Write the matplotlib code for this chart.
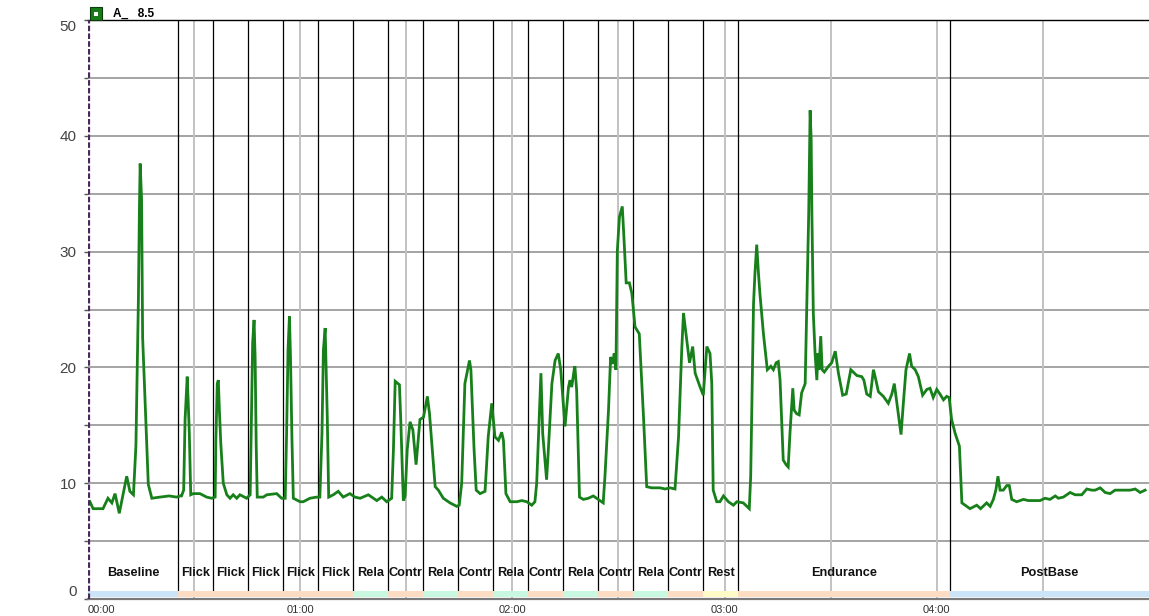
import matplotlib
matplotlib.use("Agg")
import matplotlib.pyplot as plt
from matplotlib.patches import Rectangle

plt.rcParams['font.family'] = ['Liberation Sans', 'DejaVu Sans']

# signal, seconds / value
t = [0.6, 1.5, 4.3, 5.7, 6.8, 7.7, 8.9, 11.0, 11.9, 12.9, 13.6, 14.3, 14.6, 14.8, 15.2,
     15.5, 16.7, 17.1, 18.1, 20.4, 23.0, 25.1, 26.1,
     26.5, 27.1, 27.5, 27.8, 28.1, 28.4, 28.7, 29.1, 29.8, 31.7, 33.6, 35.0,
     36.0, 36.2, 36.6, 36.9, 37.2, 37.6, 38.3, 39.3, 40.2, 41.1, 42.1, 43.0, 44.9,
     45.9, 46.2, 46.6, 47.0, 47.3, 47.6, 47.9, 49.6, 50.6, 53.4, 54.8,
     55.8, 56.2, 56.6, 57.0, 57.3, 57.7, 58.1, 60.0, 60.9, 62.8, 64.7,
     65.6, 66.2, 66.6, 67.1, 67.3, 67.7, 68.1, 69.4, 70.8, 72.2, 74.1, 75.5, 77.0,
     79.3, 81.7, 83.1, 84.5,
     85.9, 86.4, 86.9, 88.1, 88.5, 89.2, 89.7, 90.3, 91.1, 91.9, 92.8, 93.9, 94.9,
     96.0, 96.6, 98.2, 99.1, 100.5, 102.4, 104.3, 105.0,
     105.7, 106.6, 107.9, 108.3, 109.2, 109.8, 110.9, 112.3, 113.2, 114.2, 115.1,
     116.1, 117.0, 117.5, 118.2, 119.4, 121.3, 122.7, 124.1, 125.5, 126.4,
     126.9, 127.7, 128.1, 128.6, 129.7, 130.2, 131.2, 132.1, 133.0, 133.7, 134.9,
     135.9, 136.3, 136.8, 137.5, 137.7, 138.2, 139.0, 140.1, 141.5, 142.9, 144.3, 145.7,
     146.2, 147.2, 147.8, 148.4, 148.8, 149.3, 149.7, 150.3, 151.1, 151.6, 152.2,
     153.1, 153.8, 154.7, 155.9, 157.1, 158.0, 159.4, 161.8, 163.2, 164.6, 166.0,
     167.0, 167.9, 168.4, 169.3, 170.1, 171.0, 171.7, 173.1, 174.0, 175.0, 175.9,
     176.4, 176.8, 177.8, 178.7, 179.7, 181.1, 182.5, 183.5, 185.3, 187.0,
     187.4, 187.7, 188.0, 188.2, 188.6, 189.1, 189.6, 190.0, 191.0, 192.1, 193.1,
     193.8, 194.6, 195.2, 195.7, 196.6, 197.4, 198.0, 198.5, 199.3, 199.7, 200.4,
     201.1, 201.8, 202.8, 203.4, 203.8, 204.2, 204.5, 204.7, 205.1, 205.6, 206.1,
     206.4, 206.7, 207.2, 207.6, 208.2, 209.4, 210.3, 211.3, 212.2, 213.4, 214.4,
     215.7, 217.4, 218.8, 219.4, 220.2, 221.2, 222.1, 222.8, 223.5, 224.9, 226.3,
     227.3, 228.0, 228.7, 229.3, 229.9, 230.6, 231.3, 232.3, 232.9, 233.9, 234.8,
     236.0, 237.2, 238.1, 239.0, 240.0, 240.9, 241.9, 242.8, 243.5, 244.2, 245.2,
     246.4, 247.1, 248.5, 249.4, 251.3, 252.4, 254.1, 255.1, 256.0, 256.7, 257.3,
     257.9, 258.8, 259.8, 260.5, 261.2, 262.6, 264.5, 265.9, 267.3, 269.2, 270.6,
     272.0, 273.5, 274.4, 275.8, 277.7, 279.1, 281.0, 282.4, 283.8, 284.8, 286.2,
     287.6, 289.0, 290.4, 292.3, 294.7, 296.1, 297.5, 298.9]
v = [8.4, 7.8, 7.8, 8.7, 8.3, 9.1, 7.4, 10.6, 9.3, 9.0, 13.2, 25.8, 33.9, 37.6, 34.5,
     22.6, 12.9, 9.9, 8.7, 8.8, 8.9, 8.8, 8.9,
     8.9, 9.4, 15.5, 17.3, 19.2, 16.9, 14.3, 9.0, 9.1, 9.1, 8.8, 8.7,
     8.8, 13.7, 18.6, 18.9, 16.3, 13.4, 10.0, 9.0, 8.7, 9.0, 8.7, 9.0, 8.7,
     9.0, 14.6, 22.1, 24.1, 20.9, 13.4, 8.8, 8.8, 9.0, 9.1, 8.7,
     8.7, 14.3, 21.5, 24.4, 20.9, 14.0, 8.7, 8.4, 8.4, 8.7, 8.8,
     8.8, 14.3, 21.5, 23.4, 20.9, 15.7, 8.8, 9.0, 9.3, 8.8, 9.1, 8.8, 8.7,
     9.0, 8.5, 8.8, 8.4,
     8.7, 12.9, 18.8, 18.5, 15.2, 8.5, 8.9, 12.9, 15.3, 14.6, 11.6, 15.5, 15.7,
     17.5, 16.0, 9.7, 9.4, 8.7, 8.3, 8.0, 8.1,
     10.0, 18.6, 20.6, 19.8, 12.9, 9.4, 9.1, 9.3, 14.0, 16.9, 14.0,
     13.7, 14.4, 13.7, 9.1, 8.4, 8.4, 8.5, 8.4, 8.1, 8.4,
     10.0, 16.3, 19.5, 14.3, 10.3, 12.9, 18.6, 20.6, 21.2, 19.8, 14.9,
     18.3, 18.9, 18.3, 19.8, 20.1, 18.0, 8.8, 8.6, 8.7, 8.9, 8.6, 8.3,
     10.6, 16.3, 20.9, 20.3, 21.2, 19.8, 30.1, 33.0, 33.9, 31.0, 27.3,
     27.3, 26.4, 23.5, 22.9, 15.7, 9.7, 9.6, 9.6, 9.5, 9.6, 9.5,
     14.0, 21.5, 24.7, 22.4, 20.4, 21.8, 19.5, 18.3, 17.6, 21.8, 21.2,
     18.6, 9.4, 8.4, 8.4, 8.9, 8.4, 8.1, 8.4, 8.3, 7.8,
     10.6, 16.3, 21.8, 25.5, 28.1, 30.6, 28.1, 26.4, 22.9, 19.8, 20.1,
     19.8, 20.4, 20.5, 18.9, 12.0, 11.6, 11.4, 14.3, 18.2, 16.3, 16.0,
     15.9, 17.8, 18.6, 27.6, 33.3, 42.2, 39.6, 33.3, 24.7, 21.2, 18.9,
     21.2, 19.8, 22.7, 19.8, 19.6, 20.1, 20.4, 21.4, 19.5, 17.6, 17.7,
     19.8, 19.3, 19.2, 18.9, 17.7, 17.5, 19.8, 18.9, 17.9, 17.5, 16.9,
     17.7, 18.6, 17.0, 15.7, 14.2, 17.1, 19.8, 21.2, 20.1, 19.8, 19.2,
     17.6, 18.1, 18.2, 17.4, 18.1, 17.7, 17.2, 17.5, 17.4, 15.5, 14.3,
     13.2, 8.3, 8.0, 7.8, 8.1, 7.8, 8.3, 8.0, 8.6, 9.4, 10.6,
     9.4, 9.4, 9.8, 9.8, 8.6, 8.4, 8.6, 8.5, 8.5, 8.5, 8.7,
     8.6, 8.9, 8.7, 8.8, 9.2, 9.0, 9.0, 9.5, 9.4, 9.4, 9.6,
     9.2, 9.1, 9.4, 9.4, 9.4, 9.5, 9.2, 9.4]

# phases
phase_edges = [0, 25.6, 35.5, 45.4, 55.3, 65.2, 75.1, 85.0, 94.9, 104.7, 114.6,
               124.5, 134.4, 144.3, 154.2, 164.1, 174.0, 183.9, 243.8, 300]
phase_names = ['Baseline', 'Flick', 'Flick', 'Flick', 'Flick', 'Flick',
               'Rela', 'Contr', 'Rela', 'Contr', 'Rela', 'Contr', 'Rela', 'Contr',
               'Rela', 'Contr', 'Rest', 'Endurance', 'PostBase']
phase_colors = {'Baseline': '#cce4f8', 'PostBase': '#cce4f8', 'Flick': '#fddcc4',
                'Contr': '#fddcc4', 'Endurance': '#fddcc4', 'Rela': '#c8f8e0',
                'Rest': '#fffbc8'}

fig = plt.figure(figsize=(11.49, 6.16), dpi=100)
ax = fig.add_axes([87.8 / 1149, 17 / 616, 1061.2 / 1149, 579 / 616])
ax.set_xlim(0, 300)
ax.set_ylim(0, 50)

# grid
for y in range(5, 50, 5):
    ax.axhline(y, color='#8c8c8c', lw=1.1, zorder=1)
for x in range(30, 300, 30):
    ax.axvline(x, color='#c2c2c2', lw=1.4, zorder=1)

# phase separators, band and names
ax.vlines(phase_edges[1:-1], 0.72, 50, color='black', lw=0.9, zorder=2)
left = phase_edges[:-1]
width = [b - a for a, b in zip(phase_edges[:-1], phase_edges[1:])]
ax.bar(left, [0.57] * len(left), width=width, bottom=0.15, align='edge',
       color=[phase_colors[n] for n in phase_names], lw=0, zorder=3)
for a, w, n in zip(left, width, phase_names):
    ax.text(a + w / 2, 2.25, n, ha='center', va='center', fontsize=9.2,
            fontweight='bold', color='#111111', zorder=4)

ax.plot(t, v, color='#17801a', lw=2.0, zorder=5, solid_joinstyle='miter')

# left cursor marker
ax.axvline(0.25, color='#4a2a5c', lw=1.6, ls=(0, (2.5, 1)), zorder=6)

# axes style
ax.spines['right'].set_visible(False)
ax.spines['left'].set_visible(False)
ax.spines['top'].set_color('black')
ax.spines['top'].set_linewidth(1.0)
ax.spines['bottom'].set_color('#7a7a7a')
ax.spines['bottom'].set_linewidth(1.6)

ax.set_yticks(range(0, 51, 5))
ax.set_yticklabels([str(y) if y % 10 == 0 else '' for y in range(0, 51, 5)])
ax.tick_params(axis='y', length=3, width=1, color='#555555', labelsize=11,
               labelcolor='#444444', pad=5)
ylabels = ax.get_yticklabels()
ylabels[0].set_va('bottom')
ylabels[-1].set_va('top')

ax.set_xticks([0, 60, 120, 180, 240])
ax.set_xticklabels(['00:00', '01:00', '02:00', '03:00', '04:00'])
ax.tick_params(axis='x', length=0, labelsize=8, labelcolor='#333333', pad=4)
ax.get_xticklabels()[0].set_ha('left')

# channel legend on top
fig.patches.append(Rectangle((90 / 1149, 1 - 20 / 616), 12 / 1149, 13 / 616,
                             transform=fig.transFigure, facecolor='#187a18',
                             edgecolor='#0c3c0c', lw=0.8))
fig.patches.append(Rectangle((94 / 1149, 1 - 15.5 / 616), 4 / 1149, 4 / 616,
                             transform=fig.transFigure, facecolor='white',
                             edgecolor='none'))
fig.text(113 / 1149, 1 - 13.5 / 616, 'A_   8.5', fontsize=8.5, fontweight='bold',
         va='center', ha='left', color='black')

fig.savefig('out.png', dpi=100)
